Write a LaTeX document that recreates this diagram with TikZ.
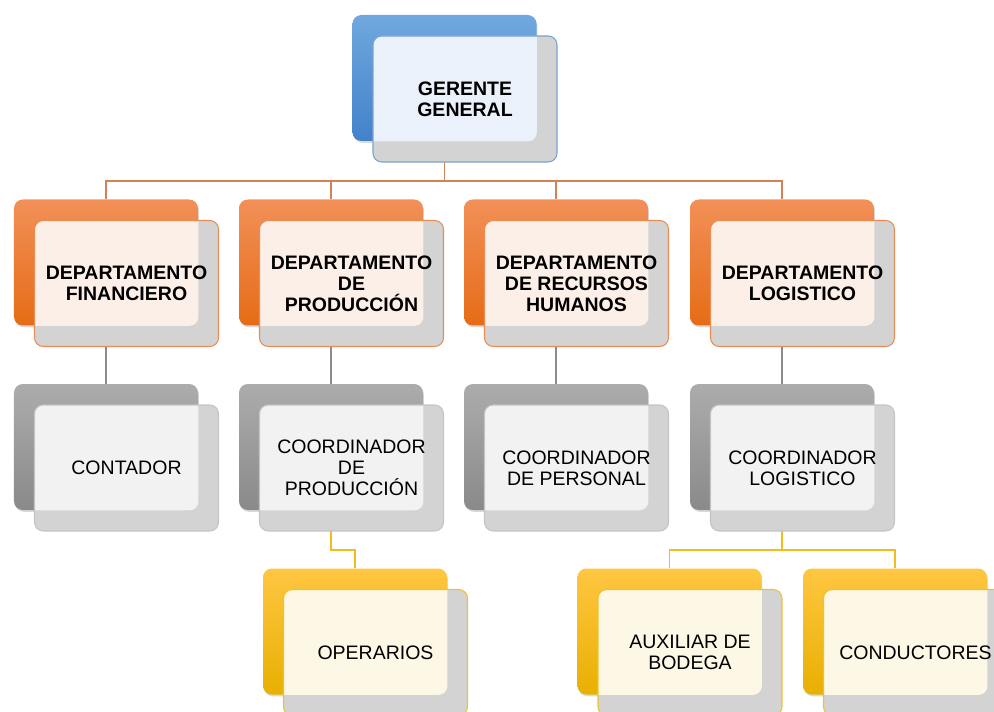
\documentclass[tikz,border=0pt]{standalone}
\usepackage{fontspec}
\setmainfont{Liberation Sans}
\usetikzlibrary{positioning, shadows, backgrounds}

\definecolor{blueTop}{RGB}{112,168,222}
\definecolor{blueBot}{RGB}{66,130,202}
\definecolor{blueLine}{RGB}{120,162,212}
\definecolor{blueLight}{RGB}{235,241,250}
\definecolor{orgTop}{RGB}{242,144,88}
\definecolor{orgBot}{RGB}{230,108,22}
\definecolor{orgLine}{RGB}{232,140,84}
\definecolor{orgLight}{RGB}{252,239,232}
\definecolor{gryTop}{RGB}{172,172,172}
\definecolor{gryBot}{RGB}{138,138,138}
\definecolor{gryLine}{RGB}{196,196,196}
\definecolor{gryLight}{RGB}{242,242,242}
\definecolor{ylwTop}{RGB}{255,198,66}
\definecolor{ylwBot}{RGB}{232,176,0}
\definecolor{ylwLine}{RGB}{240,192,50}
\definecolor{ylwLight}{RGB}{253,247,230}
\definecolor{frontGray}{RGB}{211,211,211}
\definecolor{lnOrange}{RGB}{210,130,86}
\definecolor{lnGray}{RGB}{140,140,140}
\definecolor{lnYellow}{RGB}{242,188,30}

\begin{document}
\begin{tikzpicture}[
    back/.style n args={2}{rounded corners=5pt, minimum width=3.68cm,
                minimum height=2.52cm, top color=#1, bottom color=#2,
                drop shadow={shadow xshift=0.5pt, shadow yshift=-1pt, opacity=0.3}},
    front/.style n args={3}{draw=#1, line width=0.6pt, fill=frontGray,
                rounded corners=5pt, minimum width=3.68cm,
                minimum height=2.52cm, align=center, inner sep=0pt,
                path picture={\fill[#2, rounded corners=5pt]
                    (#3.south west) rectangle (#3.north east);}},
    hd/.style={font=\fontsize{11.1}{12}\selectfont\bfseries},
    tx/.style={font=\fontsize{11.1}{12}\selectfont},
    link/.style={line width=1pt, draw=#1}
]
\path[use as bounding box] (0,0) rectangle (19.88,14.22);
\clip (0,0) rectangle (19.88,14.22);

% ---- Row 0: Gerente ----
\node[back={blueTop}{blueBot}] (ger) at (8.89,12.66) {};
\node[front={blueLine}{blueLight}{ger}, hd] (gerf)
      at ([shift={(0.41,-0.42)}]ger.center) {GERENTE\\GENERAL};

% ---- Row 1: Departamentos ----
\node[back={orgTop}{orgBot}] (fin)  at (2.12,8.97)  {};
\node[front={orgLine}{orgLight}{fin}, hd] (finf)
      at ([shift={(0.41,-0.42)}]fin.center) {DEPARTAMENTO\\FINANCIERO};
\node[back={orgTop}{orgBot}] (prod) at (6.62,8.97)  {};
\node[front={orgLine}{orgLight}{prod}, hd] (prodf)
      at ([shift={(0.41,-0.42)}]prod.center) {DEPARTAMENTO\\DE\\PRODUCCIÓN};
\node[back={orgTop}{orgBot}] (rrhh) at (11.12,8.97) {};
\node[front={orgLine}{orgLight}{rrhh}, hd] (rrhhf)
      at ([shift={(0.41,-0.42)}]rrhh.center) {DEPARTAMENTO\\DE RECURSOS\\HUMANOS};
\node[back={orgTop}{orgBot}] (logi) at (15.64,8.97) {};
\node[front={orgLine}{orgLight}{logi}, hd] (logif)
      at ([shift={(0.41,-0.42)}]logi.center) {DEPARTAMENTO\\LOGISTICO};

% ---- Row 2: Cargos ----
\node[back={gryTop}{gryBot}] (cont)  at (2.12,5.28)  {};
\node[front={gryLine}{gryLight}{cont}, tx] (contf)
      at ([shift={(0.41,-0.42)}]cont.center) {CONTADOR};
\node[back={gryTop}{gryBot}] (cprod) at (6.62,5.28)  {};
\node[front={gryLine}{gryLight}{cprod}, tx] (cprodf)
      at ([shift={(0.41,-0.42)}]cprod.center) {COORDINADOR\\DE\\PRODUCCIÓN};
\node[back={gryTop}{gryBot}] (cpers) at (11.12,5.28) {};
\node[front={gryLine}{gryLight}{cpers}, tx] (cpersf)
      at ([shift={(0.41,-0.42)}]cpers.center) {COORDINADOR\\DE PERSONAL};
\node[back={gryTop}{gryBot}] (clog)  at (15.64,5.28) {};
\node[front={gryLine}{gryLight}{clog}, tx] (clogf)
      at ([shift={(0.41,-0.42)}]clog.center) {COORDINADOR\\LOGISTICO};

% ---- Row 3: Operativos ----
\node[back={ylwTop}{ylwBot}] (oper) at (7.10,1.59)  {};
\node[front={ylwLine}{ylwLight}{oper}, tx] (operf)
      at ([shift={(0.41,-0.42)}]oper.center) {OPERARIOS};
\node[back={ylwTop}{ylwBot}] (aux)  at (13.39,1.59) {};
\node[front={ylwLine}{ylwLight}{aux}, tx] (auxf)
      at ([shift={(0.41,-0.42)}]aux.center) {AUXILIAR DE\\BODEGA};
\node[back={ylwTop}{ylwBot}] (cond) at (17.90,1.59) {};
\node[front={ylwLine}{ylwLight}{cond}, tx] (condf)
      at ([shift={(0.41,-0.42)}]cond.center) {CONDUCTORES};

% ---- Connectors ----
\begin{scope}[on background layer]
\draw[link=lnOrange] (ger.south) -- ++(0,-0.8) -| (fin.north);
\draw[link=lnOrange] (ger.south) -- ++(0,-0.8) -| (prod.north);
\draw[link=lnOrange] (ger.south) -- ++(0,-0.8) -| (rrhh.north);
\draw[link=lnOrange] (ger.south) -- ++(0,-0.8) -| (logi.north);
\draw[link=lnGray] (fin.south)  -- (cont.north);
\draw[link=lnGray] (prod.south) -- (cprod.north);
\draw[link=lnGray] (rrhh.south) -- (cpers.north);
\draw[link=lnGray] (logi.south) -- (clog.north);
\draw[link=lnYellow] (cprod.south) -- ++(0,-0.8) -| (oper.north);
\draw[link=lnYellow] (clog.south)  -- ++(0,-0.8) -| (aux.north);
\draw[link=lnYellow] (clog.south)  -- ++(0,-0.8) -| (cond.north);
\end{scope}
\end{tikzpicture}
\end{document}
